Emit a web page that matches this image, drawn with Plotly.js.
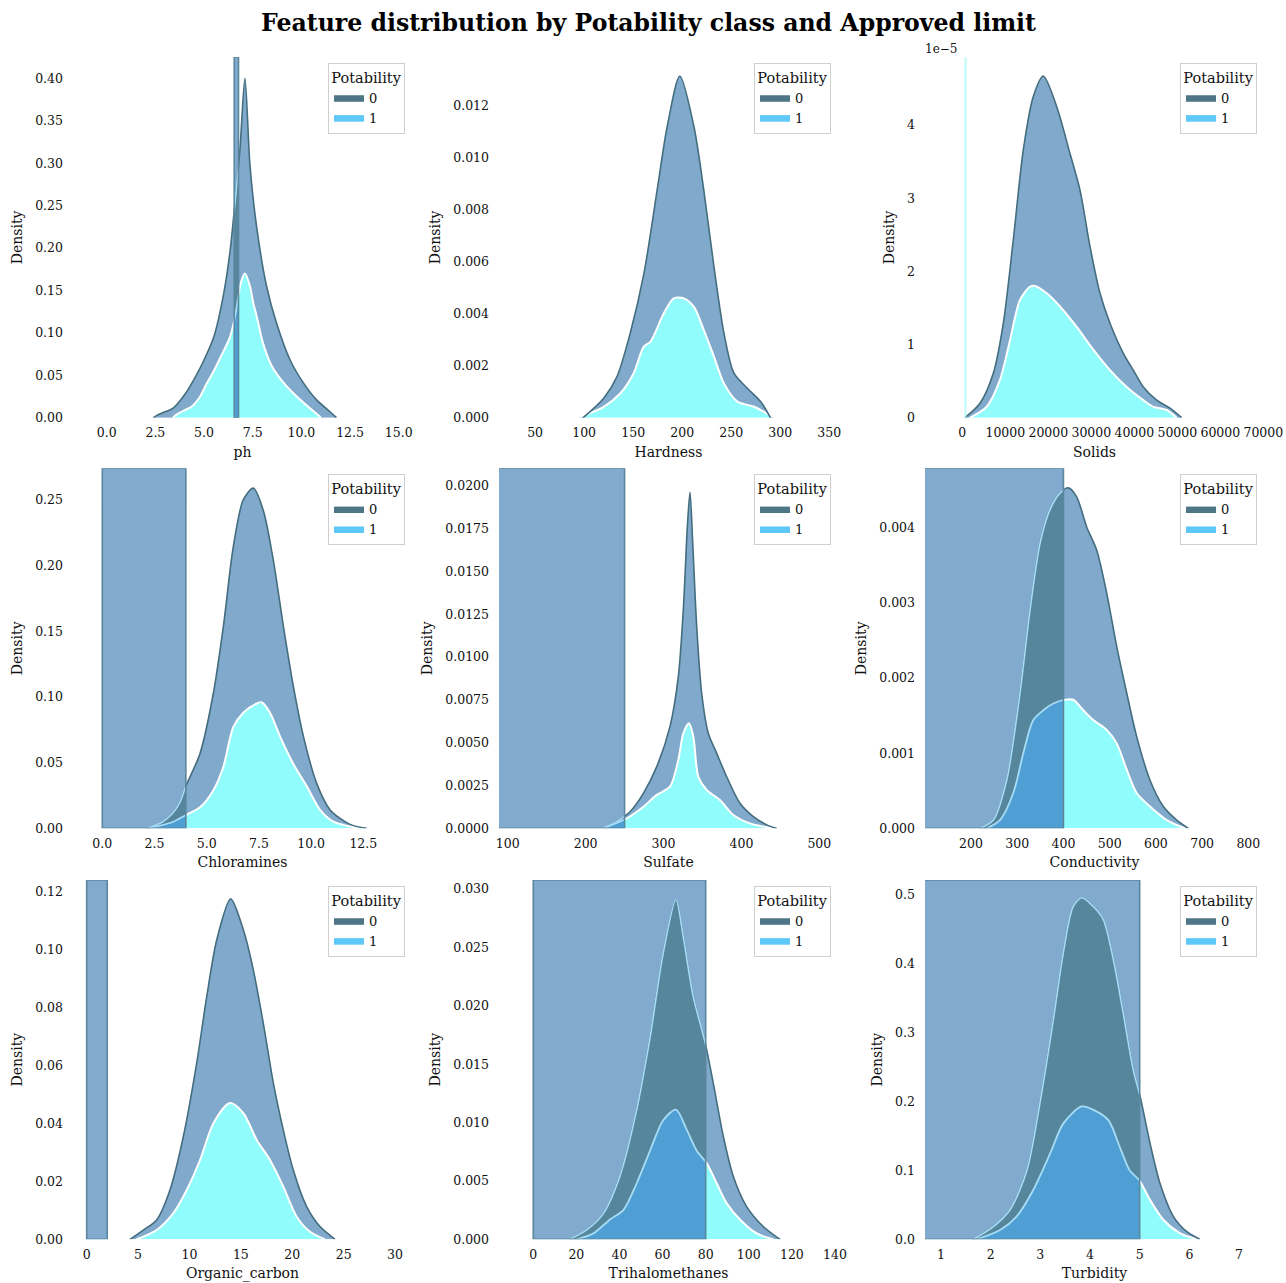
<!DOCTYPE html>
<html>
<head>
<meta charset="utf-8">
<script src="https://cdn.plot.ly/plotly-3.0.1.min.js"></script>
<style>html,body{margin:0;padding:0;background:#ffffff;}</style>
</head>
<body>
<div id="chart" style="width:1286px;height:1283px;"></div>
<script>
// ---------------- DATA ----------------
const features = ['ph', 'Hardness', 'Solids', 'Chloramines', 'Sulfate', 'Conductivity', 'Organic_carbon', 'Trihalomethanes', 'Turbidity'];
const classLabels = ['0', '1'];

// stacked KDE: "total" = top of the stack (class 0 on top of class 1), "potable" = class 1 layer
const ph_x_total = [2.4, 2.6, 3.0, 3.4, 4.0, 4.6, 5.0, 5.5, 6.0, 6.33, 6.5, 6.84, 7.1, 7.36, 7.7, 8.22, 8.73, 9.42, 10.1, 10.78, 11.47, 11.8];
const ph_total = [0, 0.003, 0.007, 0.011, 0.027, 0.05, 0.068, 0.095, 0.145, 0.195, 0.232, 0.315, 0.40, 0.297, 0.225, 0.154, 0.111, 0.068, 0.041, 0.021, 0.007, 0];
const ph_x_potable = [3.4, 3.6, 4.1, 4.36, 4.8, 5.13, 5.5, 5.82, 6.33, 6.6, 6.9, 7.1, 7.36, 7.53, 7.7, 8.04, 8.5, 9.2, 9.9, 10.5, 10.87, 11.0];
const ph_potable = [0, 0.004, 0.010, 0.013, 0.025, 0.040, 0.055, 0.070, 0.095, 0.12, 0.16, 0.170, 0.155, 0.135, 0.12, 0.087, 0.06, 0.038, 0.022, 0.010, 0.003, 0];

const hardness_x_total = [99, 120, 133.5, 147, 161, 174.5, 184.7, 197.6, 212, 222, 232.4, 242.6, 252.8, 266.5, 280, 290];
const hardness_total = [0, 0.00075, 0.00158, 0.00325, 0.00555, 0.00876, 0.01119, 0.01314, 0.01119, 0.00876, 0.00581, 0.00325, 0.00171, 0.00113, 0.00062, 0];
const hardness_x_potable = [94, 120, 137, 150.5, 160.8, 167.6, 181.2, 191.4, 201.7, 211.9, 222.1, 232.4, 242.6, 256.3, 273.3, 294];
const hardness_potable = [0, 0.00042, 0.00094, 0.00171, 0.00273, 0.00292, 0.00401, 0.00459, 0.00459, 0.00427, 0.00337, 0.00235, 0.00132, 0.00062, 0.00042, 0];

const solids_x_total = [628, 4116, 7209, 9535, 11860, 14186, 16512, 18837, 21953, 25047, 27372, 29698, 32023, 34349, 37442, 39767, 42093, 45209, 48302, 51000];
const solids_total = [0, 1.97e-6, 6.07e-6, 1.29e-5, 2.43e-5, 3.66e-5, 4.39e-5, 4.67e-5, 4.25e-5, 3.61e-5, 3.11e-5, 2.34e-5, 1.70e-5, 1.29e-5, 8.8e-6, 6.5e-6, 4.2e-6, 2.4e-6, 1.3e-6, 0];
const solids_x_potable = [1791, 5674, 8767, 11093, 13419, 15744, 16907, 19628, 22721, 26605, 30465, 34349, 38233, 42093, 44419, 47535, 49860];
const solids_potable = [0, 1.5e-6, 5.2e-6, 1.06e-5, 1.61e-5, 1.79e-5, 1.80e-5, 1.70e-5, 1.52e-5, 1.24e-5, 9.3e-6, 6.5e-6, 4.2e-6, 2.4e-6, 1.5e-6, 1.05e-6, 0];

const chloramines_x_total = [2.13, 2.9, 3.4, 3.72, 4.0, 4.68, 5.32, 5.80, 6.27, 6.75, 7.23, 7.71, 8.19, 8.67, 9.15, 9.63, 10.27, 10.91, 11.86, 12.66];
const chloramines_total = [0, 0.005, 0.012, 0.02, 0.032, 0.057, 0.103, 0.154, 0.214, 0.25, 0.259, 0.242, 0.204, 0.154, 0.108, 0.070, 0.034, 0.014, 0.003, 0];
const chloramines_x_potable = [2.2, 3.4, 3.99, 4.68, 5.32, 5.80, 6.27, 6.75, 7.39, 7.63, 8.03, 8.51, 9.15, 9.79, 10.43, 11.06, 11.70, 12.5];
const chloramines_potable = [0, 0.005, 0.010, 0.016, 0.029, 0.047, 0.077, 0.088, 0.095, 0.096, 0.088, 0.070, 0.049, 0.032, 0.014, 0.005, 0.002, 0];

const sulfate_x_total = [222.7, 239.9, 257, 274.1, 291.3, 308.3, 319, 325.4, 330.6, 334, 337.5, 342.6, 349, 357.5, 368.3, 381.1, 398.2, 415.3, 432.5, 445.3];
const sulfate_total = [0, 0.00039, 0.00097, 0.00204, 0.0036, 0.00594, 0.00886, 0.01275, 0.01762, 0.01963, 0.01665, 0.01178, 0.00789, 0.00555, 0.00438, 0.00301, 0.00146, 0.00068, 0.0002, 0];
const sulfate_x_potable = [222.7, 252.8, 274.1, 291.3, 308.3, 319, 325.4, 332.7, 338.3, 344.7, 355.5, 372.5, 389.6, 411, 440.9];
const sulfate_potable = [0, 0.00058, 0.00126, 0.00195, 0.00243, 0.00399, 0.00555, 0.00613, 0.00535, 0.00301, 0.00224, 0.00165, 0.00078, 0.00029, 0];

const conductivity_x_total = [219.5, 248.3, 277.2, 306, 327.6, 349.3, 370.9, 392.6, 410.5, 428.6, 450.3, 472, 493.6, 515.2, 536.9, 558.5, 587.3, 616.1, 645, 670.2];
const conductivity_total = [0, 0.00011, 0.00064, 0.0018, 0.0029, 0.00379, 0.00424, 0.00446, 0.00453, 0.00441, 0.00401, 0.0037, 0.00313, 0.00242, 0.0018, 0.00122, 0.00064, 0.00029, 0.00011, 0];
const conductivity_x_potable = [234, 262.7, 291.5, 313.2, 334.8, 356.4, 378.1, 403.4, 421.3, 443, 464.6, 493.6, 515.2, 536.9, 558.5, 587.3, 623.4, 663];
const conductivity_potable = [0, 0.00011, 0.00047, 0.001, 0.00144, 0.00157, 0.00166, 0.00171, 0.00171, 0.00157, 0.00144, 0.00131, 0.00113, 0.00078, 0.00047, 0.00029, 0.00011, 0];

const organic_x_total = [4.21, 5.51, 6.81, 8.10, 9.40, 10.70, 11.68, 12.65, 14.01, 15.24, 16.21, 17.18, 18.16, 19.13, 20.1, 21.4, 22.7, 24.16];
const organic_total = [0, 0.0032, 0.0067, 0.017, 0.0354, 0.0608, 0.0838, 0.1033, 0.1175, 0.1068, 0.093, 0.0746, 0.0539, 0.0377, 0.0239, 0.0113, 0.0044, 0];
const organic_x_potable = [4.86, 6.81, 8.43, 9.73, 11.03, 12.32, 13.94, 15.24, 16.54, 17.83, 19.13, 20.43, 21.73, 23.19];
const organic_potable = [0, 0.0032, 0.009, 0.017, 0.0274, 0.040, 0.047, 0.0435, 0.0343, 0.0274, 0.0182, 0.0078, 0.0026, 0];

const thm_x_total = [17, 24.8, 32.5, 40.2, 48, 54.2, 60.3, 66.2, 69.6, 74.2, 79.8, 83.5, 88.2, 92.8, 99, 106.7, 114.5];
const thm_total = [0, 0.0008, 0.0022, 0.0054, 0.0111, 0.0173, 0.0245, 0.0291, 0.0259, 0.0208, 0.0168, 0.0134, 0.0088, 0.0054, 0.0028, 0.0011, 0];
const thm_x_potable = [20.1, 27.8, 35.6, 41.8, 48, 54.2, 60.3, 66.2, 71.2, 75.8, 80.5, 85.1, 89.7, 95.9, 103.7, 111.4];
const thm_potable = [0, 0.0005, 0.0017, 0.0025, 0.0048, 0.0076, 0.0102, 0.0111, 0.0094, 0.0076, 0.0065, 0.0048, 0.0031, 0.0017, 0.0005, 0];

const turbidity_x_total = [1.65, 2.05, 2.39, 2.73, 2.99, 3.26, 3.46, 3.66, 3.83, 4.07, 4.27, 4.47, 4.67, 4.87, 5.01, 5.21, 5.41, 5.68, 5.95, 6.21];
const turbidity_total = [0, 0.018, 0.043, 0.10, 0.197, 0.318, 0.415, 0.483, 0.496, 0.483, 0.464, 0.406, 0.328, 0.246, 0.207, 0.139, 0.081, 0.033, 0.011, 0];
const turbidity_x_potable = [1.72, 2.19, 2.52, 2.86, 3.20, 3.46, 3.83, 4.07, 4.37, 4.60, 4.80, 4.99, 5.21, 5.48, 5.81, 6.15];
const turbidity_potable = [0, 0.0135, 0.033, 0.072, 0.125, 0.168, 0.193, 0.188, 0.173, 0.134, 0.10, 0.086, 0.057, 0.028, 0.009, 0];

// approved-limit bands (axvspan) per feature
const limitLow  = [6.55, null, 500, 0, 0, 0, 0, 0, 0];
const limitHigh = [6.77, null, 1000, 4, 250, 400, 2, 80, 5];

// tick labels
const xTickStep   = [2.5, 50, 10000, 2.5, 100, 100, 5, 20, 1];
const xTickFormat = ['.1f', 'd', 'd', '.1f', 'd', 'd', 'd', 'd', 'd'];
const yTickStep   = [0.05, 0.002, 1e-5, 0.05, 0.0025, 0.001, 0.02, 0.005, 0.1];
const yTickFormat = ['.2f', '.3f', null, '.2f', '.4f', '.3f', '.2f', '.3f', '.1f'];
const solidsYTickVals = [0, 1e-5, 2e-5, 3e-5, 4e-5];
const solidsYTickText = ['0', '1', '2', '3', '4'];

const xTotals   = [ph_x_total, hardness_x_total, solids_x_total, chloramines_x_total, sulfate_x_total, conductivity_x_total, organic_x_total, thm_x_total, turbidity_x_total];
const yTotals   = [ph_total, hardness_total, solids_total, chloramines_total, sulfate_total, conductivity_total, organic_total, thm_total, turbidity_total];
const xPotables = [ph_x_potable, hardness_x_potable, solids_x_potable, chloramines_x_potable, sulfate_x_potable, conductivity_x_potable, organic_x_potable, thm_x_potable, turbidity_x_potable];
const yPotables = [ph_potable, hardness_potable, solids_potable, chloramines_potable, sulfate_potable, conductivity_potable, organic_potable, thm_potable, turbidity_potable];

// ---------------- LAYOUT / STYLE ----------------
const W = 1286, H = 1283;
const FONT = 'DejaVu Serif, Liberation Serif, serif';
const colBox = [[73, 412], [499, 838], [925, 1264]];
const rowBox = [[57, 417.7], [468.3, 828.3], [880, 1239.3]];
const xRanges = [[-1.73, 15.68], [13.2, 358.9], [-8674, 70163], [-1.403, 14.83], [88.8, 524], [100.5, 833.9], [-1.333, 31.65], [-15.9, 141.4], [0.678, 7.503]];
const yRanges = [[0, 0.4251], [0, 0.013873], [0, 4.93e-5], [0, 0.2741], [0, 0.02103], [0, 0.00479], [0, 0.1240], [0, 0.03077], [0, 0.5218]];

const fill0 = '#80a9cc', edge0 = '#446d7f';
const fill1 = '#90fcfc', edge1 = '#ffffff';
const handle0 = '#4e7686', handle1 = '#5ec8f6';
// colours inside the approved-limit band
const spanFill = '#82aacf', spanEdge = '#5a879d';
const fill0In = '#55869b', fill1In = '#4f9fd4', edgeIn = '#a6dcf6';

const traces = [];
const bandTraces = [];
const layout = {
  width: W, height: H,
  margin: {l: 0, r: 0, t: 0, b: 0},
  paper_bgcolor: '#ffffff', plot_bgcolor: 'rgba(0,0,0,0)',
  font: {family: FONT, size: 13, color: '#111111'},
  showlegend: true,
  hovermode: false,
  title: {
    text: 'Feature distribution by Potability class and Approved limit',
    font: {family: FONT, size: 23.6, weight: 'bold', color: '#000000'},
    x: 648.5 / W, xref: 'paper', xanchor: 'center',
    y: 1 - 23 / H, yref: 'container', yanchor: 'middle'
  },
  shapes: [],
  annotations: [{
    text: '1e\u22125', x: 941 / W, y: 1 - 49 / H, xref: 'paper', yref: 'paper',
    xanchor: 'center', yanchor: 'middle', showarrow: false,
    font: {family: FONT, size: 12, color: '#111111'}
  }]
};

features.forEach((name, i) => {
  const r = Math.floor(i / 3), c = i % 3;
  const sfx = i === 0 ? '' : String(i + 1);
  const xa = 'x' + sfx, ya = 'y' + sfx;
  const legId = 'legend' + sfx;
  const L = colBox[c][0], R = colBox[c][1];
  const xr = xRanges[i];
  const toPx = v => L + (v - xr[0]) / (xr[1] - xr[0]) * (R - L);

  layout['xaxis' + sfx] = {
    domain: [L / W, R / W],
    anchor: ya, range: xr, fixedrange: true,
    showgrid: false, zeroline: false, showline: false, ticks: '',
    tick0: 0, dtick: xTickStep[i], tickformat: xTickFormat[i],
    ticklabelstandoff: 6,
    tickfont: {family: FONT, size: 12.5, color: '#111111'},
    title: {text: name, standoff: 7, font: {family: FONT, size: 14, color: '#111111'}}
  };
  const yax = {
    domain: [1 - rowBox[r][1] / H, 1 - rowBox[r][0] / H],
    anchor: xa, range: yRanges[i], fixedrange: true,
    showgrid: false, zeroline: false, showline: false, ticks: '',
    ticklabelstandoff: 9,
    tickfont: {family: FONT, size: 12.5, color: '#111111'},
    title: {text: 'Density', standoff: 9, font: {family: FONT, size: 14, color: '#111111'}}
  };
  if (yTickFormat[i] === null) {
    yax.tickmode = 'array'; yax.tickvals = solidsYTickVals; yax.ticktext = solidsYTickText;
  } else {
    yax.tick0 = 0; yax.dtick = yTickStep[i]; yax.tickformat = yTickFormat[i];
  }
  layout['yaxis' + sfx] = yax;

  // class 1 (bottom layer of the stack)
  traces.push({
    type: 'scatter', mode: 'lines', x: xPotables[i], y: yPotables[i],
    xaxis: xa, yaxis: ya, fill: 'tozeroy', fillcolor: fill1,
    line: {color: edge1, width: 2, shape: 'spline', smoothing: 0.8},
    showlegend: false, hoverinfo: 'skip', name: classLabels[1]
  });
  // class 0 (stacked on top)
  traces.push({
    type: 'scatter', mode: 'lines', x: xTotals[i], y: yTotals[i],
    xaxis: xa, yaxis: ya, fill: 'tonexty', fillcolor: fill0,
    line: {color: edge0, width: 1.6, shape: 'spline', smoothing: 0.8},
    showlegend: false, hoverinfo: 'skip', name: classLabels[0]
  });
  // legend handles
  [[classLabels[0], handle0], [classLabels[1], handle1]].forEach(([lab, col]) => {
    traces.push({
      type: 'scatter', mode: 'lines', x: [null], y: [null],
      xaxis: xa, yaxis: ya, fill: 'toself', fillcolor: col,
      line: {color: col, width: 1}, name: lab, legend: legId, showlegend: true, hoverinfo: 'skip'
    });
  });

  layout[legId] = {
    x: (R - 7) / W, xanchor: 'right',
    y: 1 - (rowBox[r][0] + 6) / H, yanchor: 'top',
    bgcolor: 'rgba(255,255,255,0.85)', bordercolor: '#cfcfcf', borderwidth: 1,
    font: {family: FONT, size: 13, color: '#111111'},
    title: {text: 'Potability', side: 'top center', font: {family: FONT, size: 14.5, color: '#111111'}},
    itemwidth: 30, tracegroupgap: 0, traceorder: 'normal'
  };

  if (limitLow[i] !== null) {
    const isSolids = name === 'Solids';
    if (isSolids) {
      layout.shapes.push({
        type: 'rect', xref: xa, yref: ya, layer: 'above',
        x0: limitLow[i], x1: limitHigh[i], y0: yRanges[i][0], y1: yRanges[i][1],
        fillcolor: 'rgba(170,250,250,0.75)', line: {width: 0}
      });
    } else {
      // band background, below the densities
      layout.shapes.push({
        type: 'rect', xref: xa, yref: ya, layer: 'below',
        x0: limitLow[i], x1: limitHigh[i], y0: yRanges[i][0], y1: yRanges[i][1],
        fillcolor: spanFill, line: {width: 0}
      });
      // band outline, above
      layout.shapes.push({
        type: 'rect', xref: xa, yref: ya, layer: 'above',
        x0: limitLow[i], x1: limitHigh[i], y0: yRanges[i][0], y1: yRanges[i][1],
        fillcolor: 'rgba(0,0,0,0)', line: {color: spanEdge, width: 1.6}
      });
      // an invisible x axis covering exactly the band, same scale as the main one,
      // so the same density curves are redrawn (clipped) in the band colours
      const lo = Math.max(limitLow[i], xr[0]), hi = Math.min(limitHigh[i], xr[1]);
      const bx = 'x' + (10 + i);
      layout['xaxis' + (10 + i)] = {
        domain: [toPx(lo) / W, toPx(hi) / W], range: [lo, hi], anchor: ya,
        visible: false, fixedrange: true, showgrid: false, zeroline: false
      };
      bandTraces.push({
        type: 'scatter', mode: 'lines', x: xPotables[i], y: yPotables[i],
        xaxis: bx, yaxis: ya, fill: 'tozeroy', fillcolor: fill1In,
        line: {color: edgeIn, width: 1.8, shape: 'spline', smoothing: 0.8},
        showlegend: false, hoverinfo: 'skip', name: classLabels[1]
      });
      bandTraces.push({
        type: 'scatter', mode: 'lines', x: xTotals[i], y: yTotals[i],
        xaxis: bx, yaxis: ya, fill: 'tonexty', fillcolor: fill0In,
        line: {color: edgeIn, width: 1.6, shape: 'spline', smoothing: 0.8},
        showlegend: false, hoverinfo: 'skip', name: classLabels[0]
      });
    }
  }
});

Plotly.newPlot('chart', traces.concat(bandTraces), layout, {staticPlot: true, displayModeBar: false});
</script>
</body>
</html>
